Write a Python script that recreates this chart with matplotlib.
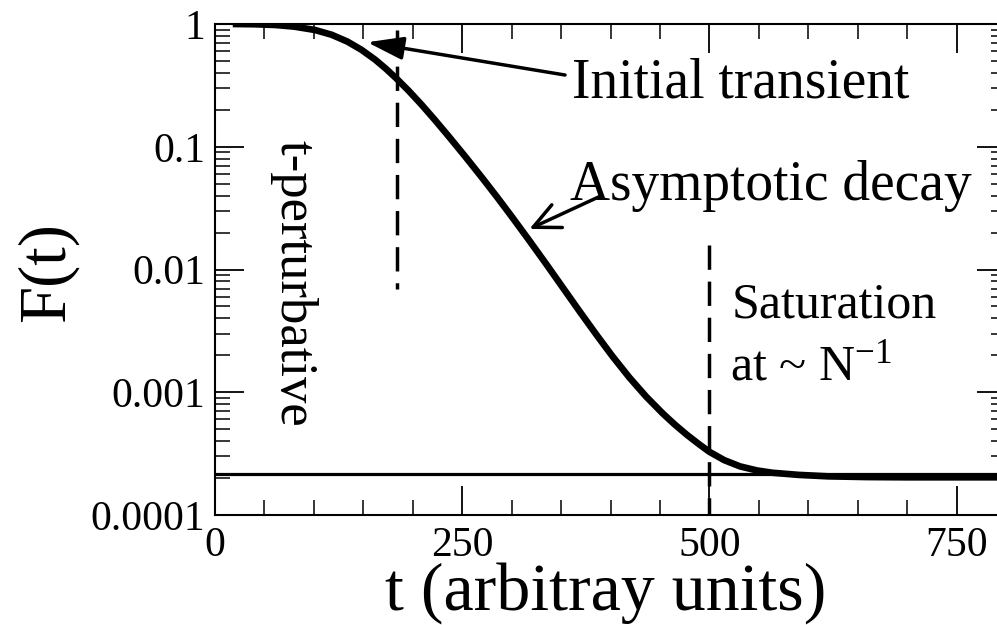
import matplotlib
matplotlib.use("Agg")
import matplotlib.pyplot as plt
from matplotlib.ticker import FixedLocator, LogLocator, NullFormatter

plt.rcParams['font.family'] = ['Liberation Serif', 'DejaVu Serif']
plt.rcParams['mathtext.fontset'] = 'custom'
plt.rcParams['mathtext.rm'] = 'Liberation Serif'
plt.rcParams['mathtext.it'] = 'Liberation Serif:italic'

# ---- data ----
t_vals = [18, 40, 61, 80, 101, 118, 134, 148, 162, 173, 184, 196, 209, 222,
          236, 253, 270, 285, 300, 318, 335, 352, 369, 386, 402, 419, 436,
          453, 465, 477, 489, 500, 515, 531, 548, 564, 590, 620, 660, 700, 800]
F_vals = [1.000, 0.9954, 0.9817, 0.9521, 0.8941, 0.8172, 0.7182, 0.6172,
          0.5121, 0.4310, 0.3565, 0.2851, 0.2198, 0.1667, 0.1225, 0.08337,
          0.05610, 0.03917, 0.02706, 0.01716, 0.01107, 0.007079, 0.004529,
          0.002924, 0.001963, 0.001321, 0.0009226, 0.0006699, 0.0005458,
          0.0004519, 0.0003802, 0.0003273, 0.0002799, 0.0002489, 0.0002307,
          0.0002208, 0.0002123, 0.0002065, 0.0002037, 0.0002028, 0.0002028]
saturation_level = 2.14e-4

dash1_t = [184, 184]
dash1_F = [0.9, 0.007]
dash2_t = [500, 500]
dash2_F = [0.0158, 1e-4]

x_ticks = [0, 250, 500, 750]
x_tick_labels = ["0", "250", "500", "750"]
y_ticks = [1e-4, 1e-3, 1e-2, 1e-1, 1]
y_tick_labels = ["0.0001", "0.001", "0.01", "0.1", "1"]

# ---- figure ----
W, H = 997, 625
fig = plt.figure(figsize=(W / 100, H / 100), dpi=100)
ax = fig.add_axes([215 / W, (H - 515) / H, (1006 - 215) / W, (515 - 24) / H])

ax.set_yscale('log')
ax.set_xlim(0, 800)
ax.set_ylim(1e-4, 1)

ax.axhline(saturation_level, color='black', lw=2.3, zorder=2)
ax.plot(t_vals, F_vals, color='black', lw=4.8, solid_capstyle='butt',
        solid_joinstyle='round', zorder=3)
ax.plot(dash1_t, dash1_F, color='black', lw=2.5, linestyle=(0, (7.0, 3.4)), zorder=2)
ax.plot(dash2_t, dash2_F, color='black', lw=2.5, linestyle=(0, (7.0, 3.4)), zorder=2)

# ticks
ax.xaxis.set_major_locator(FixedLocator(x_ticks))
ax.set_xticklabels(x_tick_labels)
ax.xaxis.set_minor_locator(FixedLocator(list(range(0, 801, 50))))
ax.yaxis.set_major_locator(FixedLocator(y_ticks))
ax.set_yticklabels(y_tick_labels)
ax.yaxis.set_minor_locator(LogLocator(base=10, subs=range(2, 10), numticks=20))
ax.yaxis.set_minor_formatter(NullFormatter())

ax.tick_params(which='both', direction='in', top=True, right=True, colors='black')
ax.tick_params(which='major', length=21, width=1.3, labelsize=30)
ax.tick_params(which='minor', length=10.5, width=1.1)
ax.tick_params(axis='x', which='major', pad=8.5)
ax.tick_params(axis='y', which='major', pad=7)
for s in ax.spines.values():
    s.set_linewidth(1.5)

# axis labels
ax.set_xlabel("t (arbitray units)", fontsize=49, va='baseline')
ax.xaxis.set_label_coords((606 - 215) / 791, (515 - 610) / 491)
ax.set_ylabel("F(t)", fontsize=48, va='baseline')
ax.yaxis.set_label_coords((64 - 215) / 791, (515 - 272) / 491)

# annotations
ax.text(361, 0.25, "Initial transient", fontsize=40, ha='left', va='baseline')
ax.annotate("", xy=(154, 0.71), xytext=(354, 0.384),
            arrowprops=dict(arrowstyle='-|>,head_length=1.1,head_width=0.35',
                            lw=2.5, color='black', mutation_scale=20,
                            shrinkA=0, shrinkB=0))
ax.text(359, 0.0368, "Asymptotic decay", fontsize=40, ha='left', va='baseline')
ax.annotate("", xy=(318, 0.0214), xytext=(388, 0.039),
            arrowprops=dict(arrowstyle='->,head_length=0.95,head_width=0.45',
                            lw=2.5, color='black', mutation_scale=20,
                            shrinkA=0, shrinkB=0))
ax.text(79, 0.1135, "t-perturbative", fontsize=38, rotation=-90,
        ha='center', va='top')
ax.text(523, 0.0041, "Saturation", fontsize=36, ha='left', va='baseline')
ax.text(521, 0.00126, r"at ~ N$^{\mathregular{-1}}$", fontsize=36, ha='left', va='baseline')

fig.savefig("out.png", dpi=100)
